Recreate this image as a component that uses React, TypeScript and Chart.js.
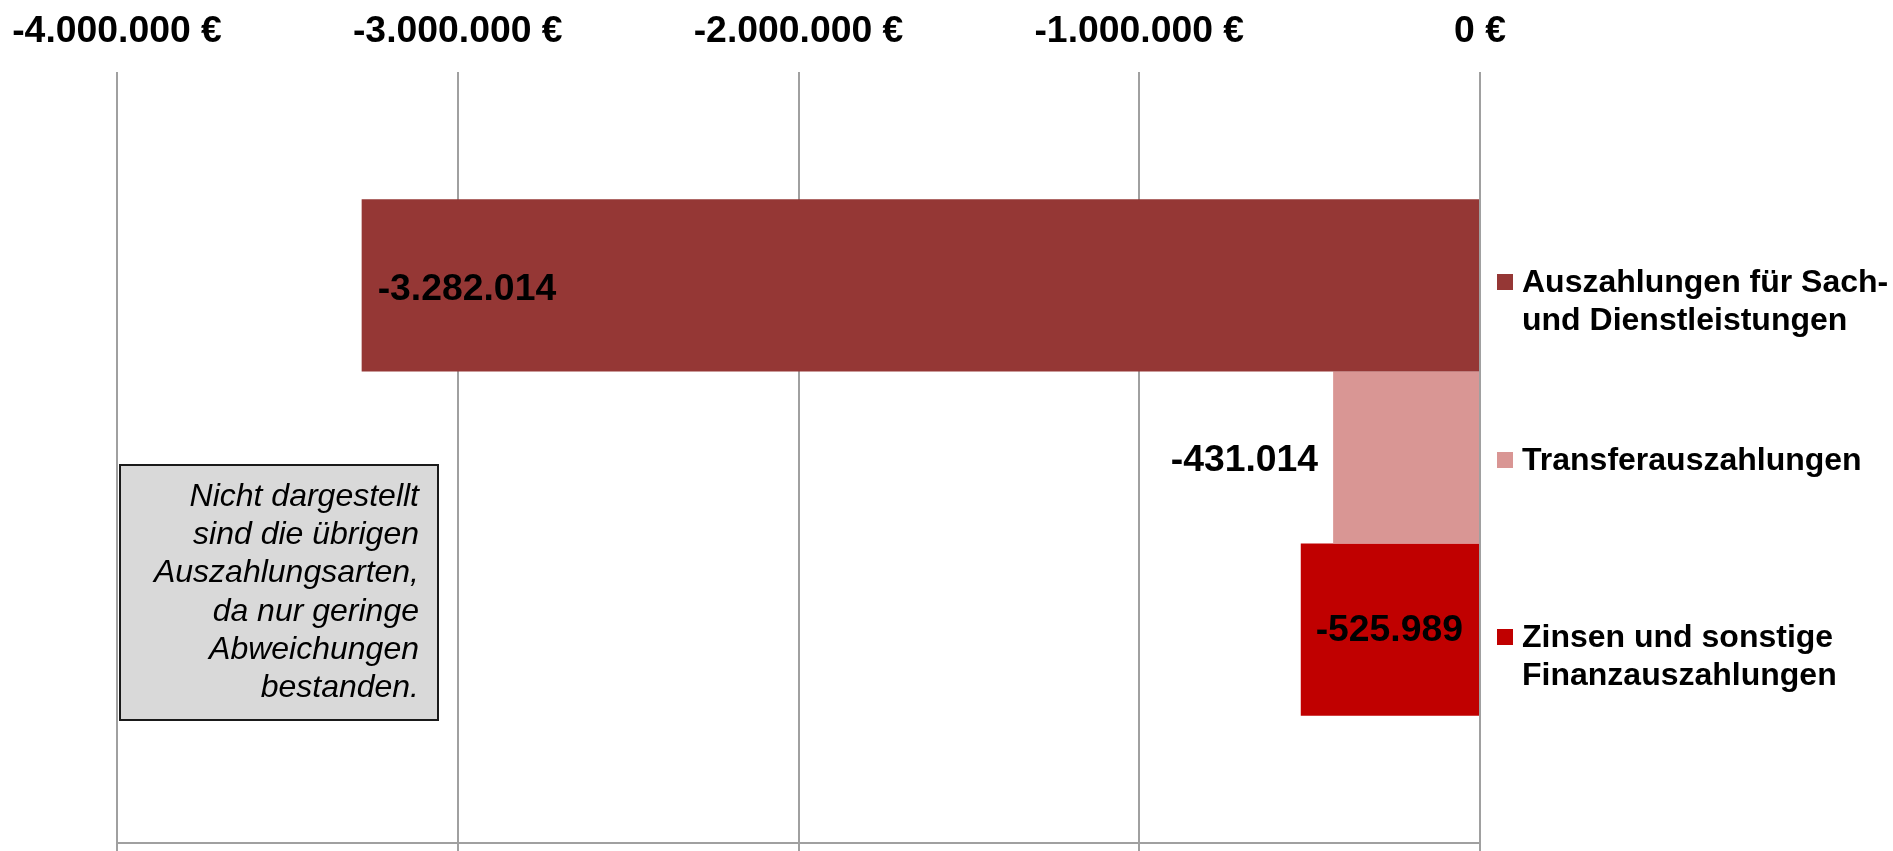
import React, { useEffect, useRef } from "react";
import { Chart, registerables } from "chart.js";

Chart.register(...registerables);

// ---------- data ----------
const CATEGORIES = [""];
const SERIES_NAMES = [
  "Auszahlungen für Sach- und Dienstleistungen",
  "Transferauszahlungen",
  "Zinsen und sonstige Finanzauszahlungen",
];
const LEGEND_LINES = [
  ["Auszahlungen für Sach-", "und Dienstleistungen"],
  ["Transferauszahlungen"],
  ["Zinsen und sonstige", "Finanzauszahlungen"],
];
const SACH_VALUES = [-3282014];
const TRANSFER_VALUES = [-431014];
const ZINSEN_VALUES = [-525989];
const TICK_VALUES = [-4000000, -3000000, -2000000, -1000000, 0];
const NOTE_LINES = [
  "Nicht dargestellt",
  "sind die übrigen",
  "Auszahlungsarten,",
  "da nur geringe",
  "Abweichungen",
  "bestanden.",
];

// ---------- styles / layout ----------
const COLORS = ["#953735", "#D99694", "#C00000"];
const LABEL_POS = ["insideEnd", "outsideEnd", "insideBase"];
const LABEL_DY = [4, 3, 1];
const FONT = "'Liberation Sans', Arial, Helvetica, sans-serif";
const GRID = "#a0a0a0";
const W = 1893;
const H = 851;
const LEGEND_Y = [282, 460, 637];
const LEGEND_LINE_H = 38.5;
const NOTE_BOX = { x: 120, y: 465, w: 318, h: 255 };

function fmt(v: number): string {
  const neg = v < 0;
  const s = Math.round(Math.abs(v)).toString();
  const parts: string[] = [];
  for (let i = s.length; i > 0; i -= 3) parts.unshift(s.slice(Math.max(0, i - 3), i));
  return (neg ? "-" : "") + parts.join(".");
}

const barLabels = {
  id: "barLabels",
  afterDatasetsDraw(chart: any) {
    const ctx = chart.ctx;
    chart.data.datasets.forEach((ds: any, i: number) => {
      const meta = chart.getDatasetMeta(i);
      meta.data.forEach((el: any, j: number) => {
        const v = ds.data[j];
        const { x, y, base } = el.getProps(["x", "y", "base"], true);
        ctx.save();
        ctx.font = `bold 37.33px ${FONT}`;
        ctx.fillStyle = "#000";
        ctx.textBaseline = "middle";
        let tx = x;
        const pos = LABEL_POS[i];
        if (pos === "insideEnd") {
          ctx.textAlign = "left";
          tx = x + 16;
        } else if (pos === "outsideEnd") {
          ctx.textAlign = "right";
          tx = x - 15;
        } else {
          ctx.textAlign = "right";
          tx = base - 16;
        }
        ctx.fillText(fmt(v), tx, y + LABEL_DY[i]);
        ctx.restore();
      });
    });
  },
};

const extras = {
  id: "extras",
  afterDraw(chart: any) {
    const ctx = chart.ctx;
    // legend
    ctx.save();
    ctx.font = `bold 32px ${FONT}`;
    ctx.textBaseline = "middle";
    ctx.textAlign = "left";
    LEGEND_LINES.forEach((lines, i) => {
      const y0 = LEGEND_Y[i];
      ctx.fillStyle = chart.data.datasets[i].backgroundColor;
      ctx.fillRect(1497, y0 - 8, 16, 16);
      ctx.fillStyle = "#000";
      lines.forEach((t, k) => ctx.fillText(t, 1522, y0 + k * LEGEND_LINE_H + 1));
    });
    ctx.restore();

    // note box
    ctx.save();
    ctx.fillStyle = "#d9d9d9";
    ctx.fillRect(NOTE_BOX.x, NOTE_BOX.y, NOTE_BOX.w, NOTE_BOX.h);
    ctx.strokeStyle = "#1a1a1a";
    ctx.lineWidth = 2;
    ctx.strokeRect(NOTE_BOX.x, NOTE_BOX.y, NOTE_BOX.w, NOTE_BOX.h);
    ctx.font = `italic 32px ${FONT}`;
    ctx.fillStyle = "#000";
    ctx.textAlign = "right";
    ctx.textBaseline = "middle";
    const lh = 38.3;
    const top = NOTE_BOX.y + (NOTE_BOX.h - lh * NOTE_LINES.length) / 2 + lh / 2;
    NOTE_LINES.forEach((t, k) => ctx.fillText(t, NOTE_BOX.x + NOTE_BOX.w - 19, top + k * lh));
    ctx.restore();
  },
};

export default function App() {
  const ref = useRef<HTMLCanvasElement | null>(null);

  useEffect(() => {
    if (!ref.current) return;
    const values = [SACH_VALUES, TRANSFER_VALUES, ZINSEN_VALUES];
    const chart = new Chart(ref.current, {
      type: "bar",
      data: {
        labels: CATEGORIES,
        datasets: values.map((d, i) => ({
          label: SERIES_NAMES[i],
          data: d,
          backgroundColor: COLORS[i],
          borderWidth: 0,
          categoryPercentage: 0.67,
          barPercentage: 1.0,
        })),
      },
      options: {
        indexAxis: "y",
        animation: false,
        responsive: false,
        layout: { padding: { left: 117, right: W - 1480, top: 0, bottom: 0 } },
        plugins: {
          legend: { display: false },
          tooltip: { enabled: false },
          title: { display: false },
        },
        scales: {
          x: {
            type: "linear",
            position: "top",
            min: TICK_VALUES[0],
            max: TICK_VALUES[TICK_VALUES.length - 1],
            afterBuildTicks: (scale: any) => {
              scale.ticks = TICK_VALUES.map((v) => ({ value: v }));
            },
            afterFit: (scale: any) => {
              scale.height = 72;
              scale.paddingLeft = 0;
              scale.paddingRight = 0;
            },
            ticks: {
              padding: 18,
              color: "#000",
              font: { family: FONT, size: 37.33, weight: "bold" },
              maxRotation: 0,
              autoSkip: false,
              callback: (v: any) => fmt(Number(v)) + " €",
            },
            grid: { color: GRID, lineWidth: 2, drawTicks: false },
            border: { display: false },
          },
          x2: {
            type: "linear",
            axis: "x",
            position: "bottom",
            min: TICK_VALUES[0],
            max: TICK_VALUES[TICK_VALUES.length - 1],
            afterBuildTicks: (scale: any) => {
              scale.ticks = TICK_VALUES.map((v) => ({ value: v }));
            },
            afterFit: (scale: any) => {
              scale.height = 8;
              scale.paddingLeft = 0;
              scale.paddingRight = 0;
            },
            ticks: { display: false },
            grid: {
              color: GRID,
              lineWidth: 2,
              drawOnChartArea: false,
              drawTicks: true,
              tickLength: 8,
            },
            border: { display: true, color: GRID, width: 2 },
          },
          y: {
            display: false,
          },
        },
      },
      plugins: [barLabels, extras],
    } as any);
    return () => chart.destroy();
  }, []);

  return (
    <div style={{ position: "fixed", left: 0, top: 0, width: W, height: H, overflow: "hidden", background: "#fff" }}>
      <canvas ref={ref} width={W} height={H} style={{ display: "block", width: W, height: H }} />
    </div>
  );
}
